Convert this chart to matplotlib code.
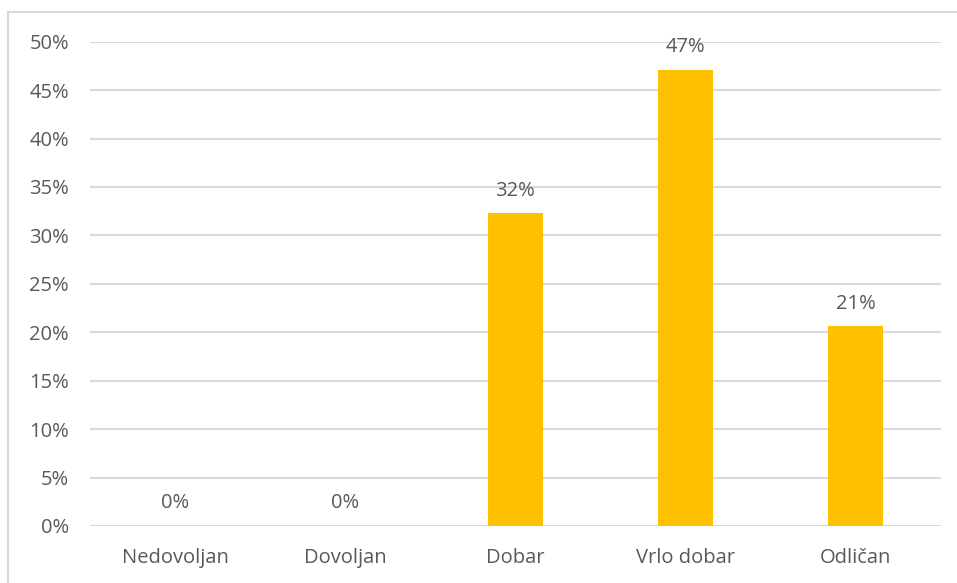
import matplotlib
matplotlib.use("Agg")
import matplotlib.pyplot as plt
from matplotlib.lines import Line2D
from matplotlib.ticker import PercentFormatter

# ---- Daten ----
categories = ["Nedovoljan", "Dovoljan", "Dobar", "Vrlo dobar", "Odličan"]
values = [0.0, 0.0, 32.3, 47.1, 20.6]          # Prozent
labels = ["0%", "0%", "32%", "47%", "21%"]
yticks = [0, 5, 10, 15, 20, 25, 30, 35, 40, 45, 50]

BAR_COLOR = "#FFC000"
TEXT_COLOR = "#595959"
GRID_COLOR = "#D9D9D9"
FS = 14.5

plt.rcParams["font.family"] = ["Open Sans", "DejaVu Sans"]

fig = plt.figure(figsize=(9.57, 5.83), dpi=100)
ax = fig.add_axes([0.094, 0.0978, 0.889, 0.8307])

x = list(range(len(categories)))
bars = ax.bar(x, values, width=0.32, color=BAR_COLOR, zorder=3)

# Datenbeschriftungen
for b, lab in zip(bars, labels):
    ax.annotate(lab, (b.get_x() + b.get_width() / 2, b.get_height()),
                xytext=(0, 9), textcoords="offset points",
                ha="center", va="bottom", fontsize=FS, color=TEXT_COLOR)

ax.set_xlim(-0.5, len(categories) - 0.5)
ax.set_ylim(0, 50)
ax.set_yticks(yticks)
ax.yaxis.set_major_formatter(PercentFormatter(decimals=0))
ax.set_xticks(x)
ax.set_xticklabels(categories)

ax.grid(axis="y", color=GRID_COLOR, linewidth=1.5, zorder=0)
ax.set_axisbelow(True)
for s in ax.spines.values():
    s.set_visible(False)
ax.tick_params(axis="both", length=0, labelsize=FS, labelcolor=TEXT_COLOR)
ax.tick_params(axis="x", pad=16)
ax.tick_params(axis="y", pad=15)

# Rahmen (oben + links, Rest abgeschnitten)
W, H = 957, 583
fig.add_artist(Line2D([8 / W, 1], [1 - 12 / H, 1 - 12 / H],
                      color=GRID_COLOR, linewidth=1.5, transform=fig.transFigure))
fig.add_artist(Line2D([8 / W, 8 / W], [0, 1 - 12 / H],
                      color=GRID_COLOR, linewidth=1.5, transform=fig.transFigure))

fig.savefig("out.png", dpi=100)
